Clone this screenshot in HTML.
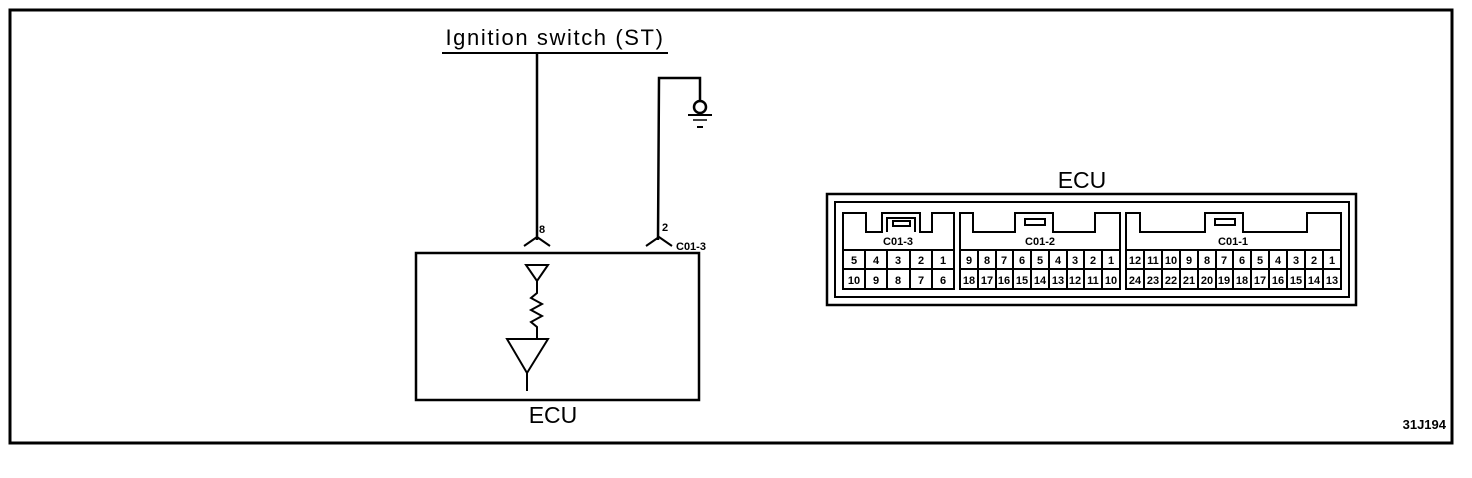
<!DOCTYPE html>
<html><head><meta charset="utf-8"><style>
html,body{margin:0;padding:0;background:#fff;}
svg{display:block;}
text{font-family:"Liberation Sans",Arial,sans-serif;font-weight:bold;fill:#000;}
.c{font-size:11px;text-anchor:middle;}
</style></head><body>
<svg width="1472" height="478" viewBox="0 0 1472 478" xmlns="http://www.w3.org/2000/svg">
<rect x="10" y="10" width="1442" height="433" fill="none" stroke="#000" stroke-width="3"/>
<text x="555" y="45" font-size="22" text-anchor="middle" letter-spacing="1.6" style="font-weight:normal">Ignition switch (ST)</text>
<line x1="442" y1="53" x2="668" y2="53" stroke="#000" stroke-width="2"/>
<line x1="537" y1="53" x2="537" y2="240" stroke="#000" stroke-width="2.5"/>
<polyline points="524,246 537,237 550,246" fill="none" stroke="#000" stroke-width="2"/>
<text x="539" y="233" font-size="11">8</text>
<polyline points="658,240 659,78 700,78 700,101" fill="none" stroke="#000" stroke-width="2.5"/>
<circle cx="700" cy="107" r="6" fill="none" stroke="#000" stroke-width="2.5"/>
<line x1="688" y1="115" x2="712" y2="115" stroke="#000" stroke-width="2"/>
<line x1="693" y1="120" x2="707" y2="120" stroke="#000" stroke-width="1.5"/>
<line x1="697" y1="127" x2="703" y2="127" stroke="#000" stroke-width="2"/>
<polyline points="646,246 659,237 672,246" fill="none" stroke="#000" stroke-width="2"/>
<text x="662" y="231" font-size="11">2</text>
<text x="676" y="250" font-size="11">C01-3</text>
<rect x="416" y="253" width="283" height="147" fill="none" stroke="#000" stroke-width="2.5"/>
<polygon points="526,265 548,265 537,281" fill="none" stroke="#000" stroke-width="2"/>
<polyline points="537,281 537,293 531,298 542,304 531,310 542,316 531,322 537,327 537,339" fill="none" stroke="#000" stroke-width="2"/>
<polygon points="507,339 548,339 527,373" fill="none" stroke="#000" stroke-width="2"/>
<line x1="527" y1="373" x2="527" y2="391" stroke="#000" stroke-width="2"/>
<text x="553" y="423" font-size="23" text-anchor="middle" style="font-weight:normal">ECU</text>
<text x="1082" y="188" font-size="23" text-anchor="middle" style="font-weight:normal">ECU</text>
<rect x="827" y="194" width="529" height="111" fill="none" stroke="#000" stroke-width="2.5"/>
<rect x="835" y="202" width="514" height="95" fill="none" stroke="#000" stroke-width="2"/>
<g fill="none" stroke="#000" stroke-width="2">
<polyline points="843,289 843,213 866,213 866,232 882,232 882,213 920,213 920,232 932,232 932,213 954,213 954,289"/>
<polyline points="887,232 887,218 915,218 915,232"/>
<rect x="893" y="221" width="17" height="5"/>
<polyline points="960,289 960,213 973,213 973,232 1015,232 1015,213 1053,213 1053,232 1095,232 1095,213 1120,213 1120,289"/>
<rect x="1025" y="219" width="20" height="6"/>
<polyline points="1126,289 1126,213 1140,213 1140,232 1205,232 1205,213 1243,213 1243,232 1307,232 1307,213 1341,213 1341,289"/>
<rect x="1215" y="219" width="20" height="6"/>
<rect x="843" y="250" width="111" height="39"/><line x1="843" y1="269" x2="954" y2="269"/>
<path d="M865 250V289M887 250V289M910 250V289M932 250V289"/>
<rect x="960" y="250" width="160" height="39"/><line x1="960" y1="269" x2="1120" y2="269"/>
<path d="M978 250V289M996 250V289M1013 250V289M1031 250V289M1049 250V289M1067 250V289M1084 250V289M1102 250V289"/>
<rect x="1126" y="250" width="215" height="39"/><line x1="1126" y1="269" x2="1341" y2="269"/>
<path d="M1144 250V289M1162 250V289M1180 250V289M1198 250V289M1216 250V289M1233 250V289M1251 250V289M1269 250V289M1287 250V289M1305 250V289M1323 250V289"/>
</g>
<text x="898" y="245" class="c">C01-3</text>
<text x="1040" y="245" class="c">C01-2</text>
<text x="1233" y="245" class="c">C01-1</text>
<g>
<text x="854" y="264" class="c">5</text><text x="876" y="264" class="c">4</text><text x="898" y="264" class="c">3</text><text x="921" y="264" class="c">2</text><text x="943" y="264" class="c">1</text>
<text x="854" y="284" class="c">10</text><text x="876" y="284" class="c">9</text><text x="898" y="284" class="c">8</text><text x="921" y="284" class="c">7</text><text x="943" y="284" class="c">6</text>
<text x="969" y="264" class="c">9</text><text x="987" y="264" class="c">8</text><text x="1004" y="264" class="c">7</text><text x="1022" y="264" class="c">6</text><text x="1040" y="264" class="c">5</text><text x="1058" y="264" class="c">4</text><text x="1075" y="264" class="c">3</text><text x="1093" y="264" class="c">2</text><text x="1111" y="264" class="c">1</text>
<text x="969" y="284" class="c">18</text><text x="987" y="284" class="c">17</text><text x="1004" y="284" class="c">16</text><text x="1022" y="284" class="c">15</text><text x="1040" y="284" class="c">14</text><text x="1058" y="284" class="c">13</text><text x="1075" y="284" class="c">12</text><text x="1093" y="284" class="c">11</text><text x="1111" y="284" class="c">10</text>
<text x="1135" y="264" class="c">12</text><text x="1153" y="264" class="c">11</text><text x="1171" y="264" class="c">10</text><text x="1189" y="264" class="c">9</text><text x="1207" y="264" class="c">8</text><text x="1224" y="264" class="c">7</text><text x="1242" y="264" class="c">6</text><text x="1260" y="264" class="c">5</text><text x="1278" y="264" class="c">4</text><text x="1296" y="264" class="c">3</text><text x="1314" y="264" class="c">2</text><text x="1332" y="264" class="c">1</text>
<text x="1135" y="284" class="c">24</text><text x="1153" y="284" class="c">23</text><text x="1171" y="284" class="c">22</text><text x="1189" y="284" class="c">21</text><text x="1207" y="284" class="c">20</text><text x="1224" y="284" class="c">19</text><text x="1242" y="284" class="c">18</text><text x="1260" y="284" class="c">17</text><text x="1278" y="284" class="c">16</text><text x="1296" y="284" class="c">15</text><text x="1314" y="284" class="c">14</text><text x="1332" y="284" class="c">13</text>
</g>
<text x="1446" y="429" font-size="13" text-anchor="end">31J194</text>
</svg>
</body></html>
